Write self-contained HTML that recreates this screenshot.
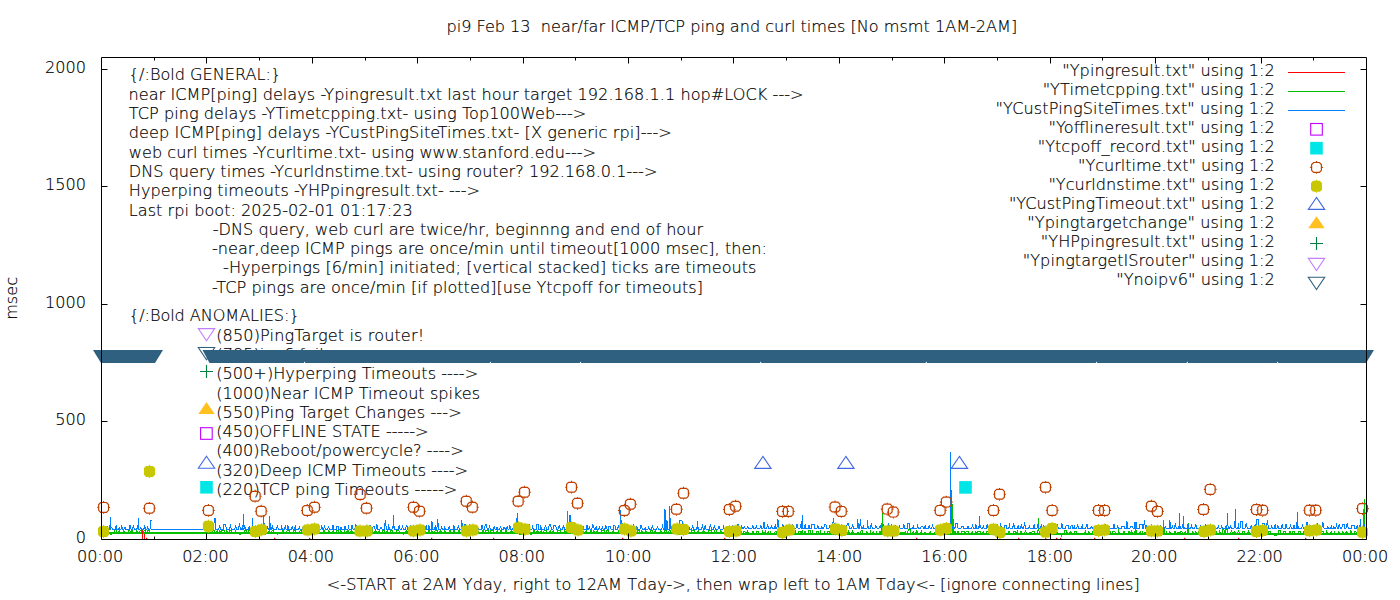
<!DOCTYPE html>
<html><head><meta charset="utf-8"><title>pi9 ping chart</title>
<style>html,body{margin:0;padding:0;background:#fff;overflow:hidden}svg{display:block}text{fill:#000;white-space:pre} .el text{font-weight:200;stroke:#000;stroke-width:0.18px}</style>
</head><body>
<svg class="el" width="1400" height="600" viewBox="0 0 1400 600" font-family="'DejaVu Sans', 'Liberation Sans', sans-serif" font-size="16.1">
<rect width="1400" height="600" fill="#fff"/>
<text x="446.43" y="32" textLength="570.85" lengthAdjust="spacing">pi9 Feb 13  near/far ICMP/TCP ping and curl times [No msmt 1AM-2AM]</text>
<text x="128.80" y="80" textLength="152.30" lengthAdjust="spacing">{/:Bold GENERAL:}</text>
<text x="128.50" y="100.1" textLength="675.07" lengthAdjust="spacing">near ICMP[ping] delays -Ypingresult.txt last hour target 192.168.1.1 hop#LOCK ---&gt;</text>
<text x="128.80" y="118.6" textLength="457.50" lengthAdjust="spacing">TCP ping delays -YTimetcpping.txt- using Top100Web---&gt;</text>
<text x="128.80" y="137.9" textLength="543.03" lengthAdjust="spacing">deep ICMP[ping] delays -YCustPingSiteTimes.txt- [X generic rpi]---&gt;</text>
<text x="128.80" y="157.7" textLength="467.23" lengthAdjust="spacing">web curl times -Ycurltime.txt- using www.stanford.edu---&gt;</text>
<text x="128.80" y="177.0" textLength="528.61" lengthAdjust="spacing">DNS query times -Ycurldnstime.txt- using router? 192.168.0.1---&gt;</text>
<text x="128.80" y="196.3" textLength="351.25" lengthAdjust="spacing">Hyperping timeouts -YHPpingresult.txt- ---&gt;</text>
<text x="128.80" y="215.6" textLength="283.85" lengthAdjust="spacing">Last rpi boot: 2025-02-01 01:17:23</text>
<text x="212.80" y="235.0" textLength="490.24" lengthAdjust="spacing">-DNS query, web curl are twice/hr, beginnng and end of hour</text>
<text x="212.00" y="254.2" textLength="555.01" lengthAdjust="spacing">-near,deep ICMP pings are once/min until timeout[1000 msec], then:</text>
<text x="223.10" y="273.4" textLength="533.31" lengthAdjust="spacing">-Hyperpings [6/min] initiated; [vertical stacked] ticks are timeouts</text>
<text x="212.00" y="292.6" textLength="491.00" lengthAdjust="spacing">-TCP pings are once/min [if plotted][use Ytcpoff for timeouts]</text>
<text x="129.00" y="320.7" textLength="170.54" lengthAdjust="spacing">{/:Bold ANOMALIES:}</text>
<text x="216.20" y="341.2" textLength="207.88" lengthAdjust="spacing">(850)PingTarget is router!</text>
<text id="a1" x="216.5" y="360.3" text-anchor="start">(785)ipv6 fail -----&gt;</text>
<text x="216.20" y="379.4" textLength="261.95" lengthAdjust="spacing">(500+)Hyperping Timeouts ----&gt;</text>
<text x="216.20" y="398.5" textLength="264.00" lengthAdjust="spacing">(1000)Near ICMP Timeout spikes</text>
<text x="216.20" y="417.7" textLength="245.49" lengthAdjust="spacing">(550)Ping Target Changes ---&gt;</text>
<text x="216.20" y="436.9" textLength="212.39" lengthAdjust="spacing">(450)OFFLINE STATE -----&gt;</text>
<text x="216.20" y="456.1" textLength="247.44" lengthAdjust="spacing">(400)Reboot/powercycle? ----&gt;</text>
<text x="216.20" y="475.6" textLength="251.85" lengthAdjust="spacing">(320)Deep ICMP Timeouts ----&gt;</text>
<text x="216.20" y="494.9" textLength="241.16" lengthAdjust="spacing">(220)TCP ping Timeouts -----&gt;</text>
<text x="1062.27" y="76" textLength="212.53" lengthAdjust="spacing">"Ypingresult.txt" using 1:2</text>
<text x="1042.65" y="95" textLength="232.15" lengthAdjust="spacing">"YTimetcpping.txt" using 1:2</text>
<text x="995.59" y="114" textLength="279.21" lengthAdjust="spacing">"YCustPingSiteTimes.txt" using 1:2</text>
<text x="1048.57" y="133" textLength="226.23" lengthAdjust="spacing">"Yofflineresult.txt" using 1:2</text>
<text x="1037.78" y="152" textLength="237.02" lengthAdjust="spacing">"Ytcpoff_record.txt" using 1:2</text>
<text x="1078.05" y="171" textLength="196.75" lengthAdjust="spacing">"Ycurltime.txt" using 1:2</text>
<text x="1048.45" y="190" textLength="226.35" lengthAdjust="spacing">"Ycurldnstime.txt" using 1:2</text>
<text x="1008.88" y="209" textLength="265.92" lengthAdjust="spacing">"YCustPingTimeout.txt" using 1:2</text>
<text x="1027.32" y="228" textLength="247.48" lengthAdjust="spacing">"Ypingtargetchange" using 1:2</text>
<text x="1040.87" y="247" textLength="233.93" lengthAdjust="spacing">"YHPpingresult.txt" using 1:2</text>
<text x="1022.80" y="266" textLength="252.00" lengthAdjust="spacing">"YpingtargetISrouter" using 1:2</text>
<text x="1116.21" y="285" textLength="158.59" lengthAdjust="spacing">"Ynoipv6" using 1:2</text>
<text id="y0" x="86" y="542.8" text-anchor="end">0</text>
<text id="y500" x="86" y="424.8" text-anchor="end">500</text>
<text id="y1000" x="86" y="307.8" text-anchor="end">1000</text>
<text id="y1500" x="86" y="189.8" text-anchor="end">1500</text>
<text id="y2000" x="86" y="72.8" text-anchor="end">2000</text>
<text id="x0" x="100.1" y="562" text-anchor="middle">00:00</text>
<text id="x2" x="205.52" y="562" text-anchor="middle">02:00</text>
<text id="x4" x="310.93" y="562" text-anchor="middle">04:00</text>
<text id="x6" x="416.35" y="562" text-anchor="middle">06:00</text>
<text id="x8" x="521.76" y="562" text-anchor="middle">08:00</text>
<text id="x10" x="628.28" y="562" text-anchor="middle">10:00</text>
<text id="x12" x="733.7" y="562" text-anchor="middle">12:00</text>
<text id="x14" x="839.11" y="562" text-anchor="middle">14:00</text>
<text id="x16" x="944.53" y="562" text-anchor="middle">16:00</text>
<text id="x18" x="1049.94" y="562" text-anchor="middle">18:00</text>
<text id="x20" x="1154.26" y="562" text-anchor="middle">20:00</text>
<text id="x22" x="1259.68" y="562" text-anchor="middle">22:00</text>
<text id="x24" x="1365.09" y="562" text-anchor="middle">00:00</text>
<text x="326.82" y="590" textLength="812.96" lengthAdjust="spacing">&lt;-START at 2AM Yday, right to 12AM Tday-&gt;, then wrap left to 1AM Tday&lt;- [ignore connecting lines]</text>
<text transform="translate(17,298.4) rotate(-90)" text-anchor="middle">msec</text>
<path d="M198.3,328.6 L214.7,328.6 L206.5,340.8 Z" fill="none" stroke="#c080ff" stroke-width="1.1"/>
<path d="M198.3,347.5 L214.7,347.5 L206.5,359.7 Z" fill="none" stroke="#306080" stroke-width="1.1"/>
<path d="M200.0,371.5H213.0M206.5,365.0V378.0" stroke="#008040" stroke-width="1.1"/>
<path d="M206.5,402.0 L214.7,414.0 L198.3,414.0 Z" fill="#ffc020"/>
<rect x="200.6" y="427.7" width="11.6" height="11.6" fill="none" stroke="#c000ff" stroke-width="1.1"/>
<path d="M206.5,456.2 L214.7,468.2 L198.3,468.2 Z" fill="none" stroke="#4169e1" stroke-width="1.1"/>
<rect x="200.2" y="481.0" width="12.6" height="12.6" fill="#00e6e6"/>
<path d="M101.5,533 H734.0 M734.0,534 H1366.5" stroke="#00c000" stroke-width="2" shape-rendering="crispEdges"/>
<path d="M101.5,532.5 L103.5,532.5 L104.4,530.6 L105.3,532.5 L106.6,532.5 L107.1,530.6 L108.2,530.6 L108.7,532.5 L109.8,532.5 L111.0,534.7 L112.2,532.5 L114.7,532.5 L115.2,527.9 L116.3,527.9 L116.8,532.5 L118.2,532.5 L119.4,530.9 L120.5,532.5 L123.0,532.5 L123.7,530.6 L124.4,532.5 L127.9,532.5 L128.4,530.4 L129.8,530.4 L130.3,532.5 L131.3,532.5 L132.0,530.4 L132.8,532.5 L135.9,532.5 L136.8,530.9 L137.6,532.5 L139.5,532.5 L140.0,530.9 L141.4,530.9 L141.9,532.5 L143.6,532.5 L144.1,530.3 L145.5,530.3 L146.0,532.5 L146.9,532.5 L147.4,530.4 L149.1,530.4 L149.6,532.5 L150.5,532.5 M210.6,532.5 L212.7,532.5 L213.2,530.5 L214.2,530.5 L214.7,532.5 L216.2,532.5 L217.2,530.4 L218.1,532.5 L219.3,532.5 L219.8,530.6 L220.4,532.5 L221.4,532.5 L221.9,530.5 L224.1,530.5 L224.6,532.5 L225.6,532.5 L226.8,530.4 L228.1,532.5 L229.2,532.5 L229.7,530.6 L231.6,530.6 L232.1,532.5 L234.8,532.5 L235.6,530.9 L236.4,532.5 L238.8,532.5 L240.0,534.5 L241.2,532.5 L243.8,532.5 L244.3,530.7 L246.4,530.7 L246.9,532.5 L248.3,532.5 L248.8,530.7 L250.5,530.7 L251.0,532.5 L254.1,532.5 L254.6,530.6 L256.2,530.6 L256.7,532.5 L259.6,532.5 L260.1,530.8 L262.1,530.8 L262.6,532.5 L264.2,532.5 L264.7,534.3 L266.0,534.3 L266.5,532.5 L268.6,532.5 L269.2,530.3 L269.8,532.5 L271.6,532.5 L272.1,530.8 L273.1,530.8 L273.6,532.5 L276.5,532.5 L277.5,534.0 L278.4,532.5 L281.9,532.5 L283.0,530.6 L284.1,532.5 L286.6,532.5 L287.1,530.8 L289.1,530.8 L289.6,532.5 L292.9,532.5 L293.4,530.4 L295.7,530.4 L296.2,532.5 L299.6,532.5 L300.1,530.6 L301.4,530.6 L301.9,532.5 L303.4,532.5 L304.6,530.5 L305.7,532.5 L307.2,532.5 L308.1,530.6 L309.1,532.5 L312.5,532.5 L313.7,530.4 L314.9,532.5 L317.2,532.5 L317.7,530.7 L319.6,530.7 L320.1,532.5 L322.8,532.5 L324.0,530.4 L325.2,532.5 L328.1,532.5 L328.8,530.7 L329.6,532.5 L332.2,532.5 L333.1,530.6 L334.0,532.5 L335.9,532.5 L336.4,530.8 L338.4,530.8 L338.9,532.5 L340.0,532.5 L340.9,530.7 L341.9,532.5 L343.7,532.5 L344.4,530.9 L345.0,532.5 L346.7,532.5 L347.2,530.8 L348.2,530.8 L348.7,532.5 L350.3,532.5 L351.5,530.8 L352.7,532.5 L355.3,532.5 L355.8,530.8 L358.1,530.8 L358.6,532.5 L360.7,532.5 L361.6,530.4 L362.5,532.5 L364.3,532.5 L365.2,530.5 L366.2,532.5 L367.9,532.5 L368.4,530.5 L369.9,530.5 L370.4,532.5 L371.6,532.5 L372.1,530.8 L372.7,532.5 L374.3,532.5 L375.4,530.3 L376.6,532.5 L378.2,532.5 L379.2,530.8 L380.1,532.5 L382.1,532.5 L382.6,530.5 L384.1,530.5 L384.6,532.5 L386.5,532.5 L387.2,530.4 L387.9,532.5 L390.1,532.5 L390.6,530.9 L392.8,530.9 L393.3,532.5 L396.1,532.5 L396.6,530.7 L398.9,530.7 L399.4,532.5 L402.5,532.5 L403.2,534.1 L403.8,532.5 L405.4,532.5 L406.5,530.8 L407.7,532.5 L408.8,532.5 L409.6,530.5 L410.5,532.5 L413.5,532.5 L414.0,530.6 L416.0,530.6 L416.5,532.5 L418.4,532.5 L419.6,530.6 L420.8,532.5 L423.9,532.5 L424.7,530.5 L425.5,532.5 L428.0,532.5 L428.5,530.4 L429.5,530.4 L430.0,532.5 L431.1,532.5 L431.7,528.8 L432.2,532.5 L434.7,532.5 L435.2,530.3 L437.6,530.3 L438.1,532.5 L439.5,532.5 L440.6,530.3 L441.7,532.5 L444.0,532.5 L444.9,530.7 L445.9,532.5 L449.3,532.5 L450.0,530.4 L450.8,532.5 L453.2,532.5 L454.1,528.8 L454.9,532.5 L457.9,532.5 L459.1,530.4 L460.2,532.5 L462.3,532.5 L462.8,530.8 L464.4,530.8 L464.9,532.5 L466.7,532.5 L467.9,530.5 L469.2,532.5 L470.6,532.5 L471.1,530.6 L473.1,530.6 L473.6,532.5 L475.9,532.5 L476.4,530.5 L477.8,530.5 L478.3,532.5 L481.8,532.5 L482.3,530.7 L483.6,530.7 L484.1,532.5 L485.4,532.5 L485.9,530.7 L488.3,530.7 L488.8,532.5 L490.5,532.5 L491.0,530.5 L493.0,530.5 L493.5,532.5 L496.1,532.5 L497.4,530.8 L498.6,532.5 L499.9,532.5 L500.4,530.6 L501.7,530.6 L502.2,532.5 L504.7,532.5 L506.0,530.5 L507.2,532.5 L510.5,532.5 L511.6,530.7 L512.6,532.5 L514.0,532.5 L515.0,530.6 L516.0,532.5 L518.8,532.5 L519.3,534.6 L521.4,534.6 L521.9,532.5 L525.4,532.5 L525.9,530.4 L527.5,530.4 L528.0,532.5 L529.5,532.5 L530.0,534.1 L531.4,534.1 L531.9,532.5 L533.1,532.5 L534.0,530.4 L535.0,532.5 L536.2,532.5 L537.4,530.8 L538.6,532.5 L540.4,532.5 L541.3,530.8 L542.2,532.5 L543.7,532.5 L544.2,530.6 L546.1,530.6 L546.6,532.5 L549.7,532.5 L550.2,530.4 L550.7,532.5 L552.5,532.5 L553.4,530.7 L554.3,532.5 L557.3,532.5 L557.8,530.4 L560.1,530.4 L560.6,532.5 L563.8,532.5 L564.8,530.9 L565.8,532.5 L567.2,532.5 L568.1,530.7 L569.0,532.5 L571.6,532.5 L572.1,530.4 L573.5,530.4 L574.0,532.5 L575.1,532.5 L575.6,530.9 L577.6,530.9 L578.1,532.5 L581.5,532.5 L582.6,530.6 L583.7,532.5 L585.2,532.5 L586.1,530.7 L587.0,532.5 L589.8,532.5 L590.9,530.4 L592.0,532.5 L593.2,532.5 L593.8,530.9 L594.4,532.5 L596.3,532.5 L597.2,530.7 L598.1,532.5 L601.3,532.5 L601.8,530.7 L604.2,530.7 L604.7,532.5 L606.4,532.5 L606.9,530.3 L608.2,530.3 L608.7,532.5 L612.1,532.5 L613.2,530.9 L614.3,532.5 L617.8,532.5 L618.3,530.4 L619.8,530.4 L620.3,532.5 L623.7,532.5 L624.2,530.4 L625.5,530.4 L626.0,532.5 L627.0,532.5 L628.2,530.8 L629.4,532.5 L632.0,532.5 L633.2,530.6 L634.5,532.5 L637.1,532.5 L637.6,530.5 L639.3,530.5 L639.8,532.5 L641.1,532.5 L641.9,530.7 L642.6,532.5 L645.2,532.5 L645.9,530.6 L646.5,532.5 L649.8,532.5 L650.3,530.5 L652.1,530.5 L652.6,532.5 L654.3,532.5 L655.3,530.5 L656.4,532.5 L659.6,532.5 L660.6,530.8 L661.5,532.5 L663.8,532.5 L664.3,530.8 L666.7,530.8 L667.2,532.5 L668.7,532.5 L669.2,530.6 L670.6,530.6 L671.1,532.5 L672.4,532.5 L673.4,530.7 L674.4,532.5 L675.3,532.5 L676.1,530.4 L676.9,532.5 L678.2,532.5 L678.7,534.5 L679.9,534.5 L680.4,532.5 L681.8,532.5 L682.3,530.6 L684.1,530.6 L684.6,532.5 L685.9,532.5 L686.4,530.7 L687.4,530.7 L687.9,532.5 L691.3,532.5 L691.8,530.8 L694.1,530.8 L694.6,532.5 L697.4,532.5 L698.3,530.8 L699.3,532.5 L702.4,532.5 L703.7,530.6 L704.9,532.5 L708.4,532.5 L708.9,530.8 L711.2,530.8 L711.7,532.5 L714.6,532.5 L715.1,529.2 L716.1,529.2 L716.6,532.5 L719.9,532.5 L720.7,530.5 L721.5,532.5 L724.0,532.5 L724.7,530.5 L725.3,532.5 L727.9,532.5 L728.7,530.5 L729.4,532.5 L730.3,532.5 L731.0,530.4 L731.8,532.5 L733.1,532.5 L734.0,530.8 L734.0,532.5 L734.0,532.5 M734.0,533.5 L735.5,533.5 L736.0,531.2 L737.3,531.2 L737.8,533.5 L739.0,533.5 L739.5,531.7 L741.3,531.7 L741.8,533.5 L743.4,533.5 L743.9,531.5 L744.9,531.5 L745.4,533.5 L746.6,533.5 L747.7,531.0 L748.8,533.5 L752.2,533.5 L753.0,531.0 L753.9,533.5 L756.2,533.5 L756.7,531.5 L758.2,531.5 L758.7,533.5 L761.7,533.5 L762.6,531.0 L763.6,533.5 L764.7,533.5 L765.4,531.2 L766.0,533.5 L767.5,533.5 L768.1,531.4 L768.7,533.5 L770.1,533.5 L770.7,531.7 L771.2,533.5 L774.6,533.5 L775.1,531.5 L776.2,531.5 L776.7,533.5 L779.7,533.5 L780.5,531.0 L781.3,533.5 L784.5,533.5 L785.3,531.0 L786.0,533.5 L787.2,533.5 L787.9,530.8 L788.5,533.5 L790.9,533.5 L791.4,531.3 L792.9,531.3 L793.4,533.5 L794.6,533.5 L795.2,531.2 L795.8,533.5 L798.1,533.5 L798.6,531.3 L800.1,531.3 L800.6,533.5 L801.4,533.5 L802.1,530.8 L802.8,533.5 L803.8,533.5 L804.3,531.4 L805.3,531.4 L805.8,533.5 L807.9,533.5 L808.4,530.8 L810.4,530.8 L810.9,533.5 L811.8,533.5 L812.5,531.4 L813.2,533.5 L816.3,533.5 L816.8,531.7 L818.2,531.7 L818.7,533.5 L820.0,533.5 L820.6,531.6 L821.2,533.5 L823.6,533.5 L824.4,532.0 L825.3,533.5 L827.0,533.5 L827.5,531.7 L829.8,531.7 L830.3,533.5 L833.3,533.5 L833.8,531.7 L834.9,531.7 L835.4,533.5 L837.1,533.5 L837.7,531.5 L838.2,533.5 L839.4,533.5 L839.9,531.0 L841.7,531.0 L842.2,533.5 L843.0,533.5 L843.5,531.7 L845.2,531.7 L845.7,533.5 L847.4,533.5 L848.4,531.0 L849.4,533.5 L851.6,533.5 L852.6,530.9 L853.6,533.5 L856.8,533.5 L857.9,531.9 L859.0,533.5 L860.6,533.5 L861.1,530.8 L862.2,530.8 L862.7,533.5 L865.5,533.5 L866.7,531.9 L868.0,533.5 L869.9,533.5 L870.6,531.3 L871.3,533.5 L872.4,533.5 L873.1,531.6 L873.8,533.5 L875.9,533.5 L876.6,532.0 L877.4,533.5 L878.8,533.5 L880.1,531.0 L881.3,533.5 L883.4,533.5 L883.9,531.7 L885.7,531.7 L886.2,533.5 L888.0,533.5 L888.6,531.4 L889.1,533.5 L890.4,533.5 L891.5,531.9 L892.7,533.5 L894.9,533.5 L895.9,531.0 L896.9,533.5 L900.3,533.5 L900.8,532.0 L903.0,532.0 L903.5,533.5 L904.5,533.5 L905.3,531.4 L906.2,533.5 L907.7,533.5 L908.2,529.2 L910.3,529.2 L910.8,533.5 L912.2,533.5 L913.4,531.9 L914.6,533.5 L915.6,533.5 L916.8,530.9 L917.9,533.5 L920.6,533.5 L921.2,531.2 L921.8,533.5 L924.2,533.5 L925.1,531.9 L926.0,533.5 L929.2,533.5 L930.1,531.5 L931.0,533.5 L934.4,533.5 L935.4,531.5 L936.4,533.5 L939.0,533.5 L939.8,531.5 L940.6,533.5 L943.5,533.5 L944.5,530.8 L945.4,533.5 L946.4,533.5 L947.1,531.7 L947.9,533.5 L949.2,533.5 L949.7,530.9 L952.2,530.9 L952.7,533.5 L953.8,533.5 L954.3,531.8 L955.6,531.8 L956.1,533.5 L956.9,533.5 L957.9,531.2 L958.8,533.5 L961.4,533.5 L961.9,531.1 L964.2,531.1 L964.7,533.5 L965.6,533.5 L966.1,531.3 L968.3,531.3 L968.8,533.5 L971.5,533.5 L972.2,531.5 L972.9,533.5 L975.2,533.5 L975.8,530.9 L976.3,533.5 L977.6,533.5 L978.1,531.0 L980.3,531.0 L980.8,533.5 L982.4,533.5 L983.4,531.9 L984.5,533.5 L986.4,533.5 L986.9,531.1 L988.5,531.1 L989.0,533.5 L992.1,533.5 L993.3,531.9 L994.4,533.5 L996.3,533.5 L996.8,528.9 L998.2,528.9 L998.7,533.5 L1001.9,533.5 L1002.4,532.0 L1004.5,532.0 L1005.0,533.5 L1007.8,533.5 L1008.9,531.3 L1010.0,533.5 L1012.9,533.5 L1013.4,531.4 L1015.4,531.4 L1015.9,533.5 L1016.7,533.5 L1017.4,531.1 L1018.1,533.5 L1020.0,533.5 L1021.1,531.0 L1022.2,533.5 L1024.4,533.5 L1025.6,531.1 L1026.8,533.5 L1029.1,533.5 L1030.0,531.8 L1030.8,533.5 L1031.7,533.5 L1032.2,531.6 L1034.5,531.6 L1035.0,533.5 L1037.9,533.5 L1039.0,535.3 L1040.1,533.5 L1042.4,533.5 L1043.3,531.5 L1044.1,533.5 L1046.5,533.5 L1047.0,531.5 L1049.5,531.5 L1050.0,533.5 L1053.4,533.5 L1054.3,531.3 L1055.2,533.5 L1056.1,533.5 L1056.7,531.0 L1057.3,533.5 L1060.6,533.5 L1061.3,535.6 L1061.9,533.5 L1064.1,533.5 L1064.6,530.8 L1066.7,530.8 L1067.2,533.5 L1069.5,533.5 L1070.5,531.6 L1071.5,533.5 L1073.9,533.5 L1074.4,531.7 L1076.5,531.7 L1077.0,533.5 L1079.2,533.5 L1080.2,535.0 L1081.2,533.5 L1084.4,533.5 L1085.3,531.2 L1086.3,533.5 L1087.6,533.5 L1088.7,531.8 L1089.8,533.5 L1092.1,533.5 L1092.7,531.9 L1093.3,533.5 L1094.8,533.5 L1095.4,531.6 L1096.0,533.5 L1097.4,533.5 L1098.4,531.2 L1099.5,533.5 L1100.9,533.5 L1101.4,531.7 L1103.3,531.7 L1103.8,533.5 L1106.7,533.5 L1107.5,531.3 L1108.3,533.5 L1109.9,533.5 L1110.4,531.8 L1111.0,533.5 L1112.1,533.5 L1112.6,531.6 L1114.9,531.6 L1115.4,533.5 L1117.8,533.5 L1118.6,530.9 L1119.5,533.5 L1122.9,533.5 L1124.0,531.6 L1125.2,533.5 L1128.3,533.5 L1128.9,531.0 L1129.5,533.5 L1130.5,533.5 L1131.6,531.3 L1132.8,533.5 L1134.1,533.5 L1134.6,531.8 L1135.7,531.8 L1136.2,533.5 L1139.6,533.5 L1140.1,531.4 L1140.7,533.5 L1142.1,533.5 L1142.6,531.9 L1143.1,533.5 L1143.9,533.5 L1145.0,531.8 L1146.0,533.5 L1148.0,533.5 L1148.5,530.9 L1149.6,530.9 L1150.1,533.5 L1152.9,533.5 L1154.1,531.1 L1155.2,533.5 L1156.6,533.5 L1157.3,535.2 L1158.1,533.5 L1161.1,533.5 L1161.8,535.5 L1162.4,533.5 L1165.9,533.5 L1166.4,531.9 L1167.0,533.5 L1169.0,533.5 L1169.8,531.6 L1170.6,533.5 L1173.8,533.5 L1174.3,531.9 L1175.6,531.9 L1176.1,533.5 L1177.3,533.5 L1178.0,531.9 L1178.6,533.5 L1179.8,533.5 L1180.3,531.2 L1181.9,531.2 L1182.4,533.5 L1184.2,533.5 L1185.2,531.5 L1186.2,533.5 L1187.2,533.5 L1188.3,531.8 L1189.4,533.5 L1191.9,533.5 L1192.8,531.6 L1193.7,533.5 L1194.8,533.5 L1195.9,531.7 L1197.0,533.5 L1198.1,533.5 L1198.9,531.1 L1199.7,533.5 L1201.9,533.5 L1202.7,531.8 L1203.6,533.5 L1205.4,533.5 L1205.9,531.8 L1208.3,531.8 L1208.8,533.5 L1210.4,533.5 L1210.9,531.6 L1212.2,531.6 L1212.7,533.5 L1213.7,533.5 L1214.2,531.8 L1216.6,531.8 L1217.1,533.5 L1218.7,533.5 L1219.6,531.3 L1220.5,533.5 L1222.3,533.5 L1222.8,529.7 L1224.0,529.7 L1224.5,533.5 L1225.5,533.5 L1226.0,529.3 L1227.3,529.3 L1227.8,533.5 L1230.6,533.5 L1231.6,530.8 L1232.5,533.5 L1233.5,533.5 L1234.6,531.5 L1235.7,533.5 L1237.2,533.5 L1238.4,530.9 L1239.6,533.5 L1242.0,533.5 L1242.5,531.4 L1244.2,531.4 L1244.7,533.5 L1247.6,533.5 L1248.5,531.0 L1249.4,533.5 L1251.0,533.5 L1251.5,531.7 L1253.4,531.7 L1253.9,533.5 L1255.2,533.5 L1255.7,531.5 L1257.9,531.5 L1258.4,533.5 L1260.3,533.5 L1260.8,530.9 L1261.4,533.5 L1263.6,533.5 L1264.3,530.9 L1265.1,533.5 L1268.3,533.5 L1268.8,531.9 L1270.3,531.9 L1270.8,533.5 L1273.7,533.5 L1274.2,535.3 L1276.6,535.3 L1277.1,533.5 L1278.2,533.5 L1278.7,530.9 L1280.2,530.9 L1280.7,533.5 L1283.5,533.5 L1284.0,531.3 L1285.1,531.3 L1285.6,533.5 L1288.8,533.5 L1289.9,530.9 L1291.1,533.5 L1292.3,533.5 L1292.8,531.9 L1294.6,531.9 L1295.1,533.5 L1298.4,533.5 L1298.9,531.7 L1300.5,531.7 L1301.0,533.5 L1303.3,533.5 L1303.8,531.6 L1304.4,533.5 L1305.7,533.5 L1306.2,530.9 L1307.9,530.9 L1308.4,533.5 L1309.4,533.5 L1309.9,531.3 L1312.3,531.3 L1312.8,533.5 L1315.3,533.5 L1315.8,531.2 L1318.2,531.2 L1318.7,533.5 L1321.1,533.5 L1321.6,531.6 L1323.2,531.6 L1323.7,533.5 L1325.8,533.5 L1326.6,531.5 L1327.5,533.5 L1330.5,533.5 L1331.3,531.8 L1332.0,533.5 L1333.7,533.5 L1334.6,531.9 L1335.5,533.5 L1337.7,533.5 L1338.8,531.6 L1339.8,533.5 L1341.7,533.5 L1342.6,531.7 L1343.5,533.5 L1345.2,533.5 L1346.4,531.8 L1347.6,533.5 L1350.2,533.5 L1350.9,531.0 L1351.6,533.5 L1354.3,533.5 L1354.8,531.4 L1355.8,531.4 L1356.3,533.5 L1358.4,533.5 L1358.9,531.1 L1360.9,531.1 L1361.4,533.5 L1364.0,533.5 L1365.2,531.9 L1366.3,533.5 L1366.5,533.5 M566.8,532.5 L567.4,511.0 L568.0,532.5 M881.7,533.5 L882.3,512.6 L882.9,533.5 M952.1,533.5 L952.7,504.0 L953.3,533.5 M1037.9,533.5 L1038.5,518.0 L1039.1,533.5 M1363.6,533.5 L1364.2,499.0 L1364.8,533.5 M1135.0,533.5 L1135.6,522.3 L1136.2,533.5 M1163.0,533.5 L1163.6,519.6 L1164.2,533.5 M1187.7,533.5 L1188.3,523.0 L1188.9,533.5 " fill="none" stroke="#00c000" stroke-width="1" stroke-linejoin="miter" shape-rendering="crispEdges"/>
<path d="M101.5,529.5 L102.7,529.5 L103.4,525.4 L104.0,529.5 L106.8,529.5 L107.3,526.0 L107.8,529.5 L110.0,529.5 L110.5,527.3 L111.9,527.3 L112.4,529.5 L115.6,529.5 L116.1,525.3 L116.6,529.5 L118.6,529.5 L119.2,527.2 L119.9,529.5 L121.0,529.5 L121.7,524.7 L122.5,529.5 L123.8,529.5 L124.9,527.4 L126.0,529.5 L129.1,529.5 L130.1,524.8 L131.1,529.5 L132.1,529.5 L133.4,526.1 L134.6,529.5 L136.4,529.5 L137.7,526.4 L139.0,529.5 L139.9,529.5 L140.8,527.2 L141.7,529.5 L143.8,529.5 L144.7,525.3 L145.7,529.5 L146.9,529.5 L147.7,527.0 L148.5,529.5 L150.0,529.5 L151.1,519.6 L150.5,529.5 L150.5,529.5 M210.6,529.5 L213.7,529.5 L214.2,518.5 L215.5,518.5 L216.0,529.5 L218.4,529.5 L219.6,526.5 L220.9,529.5 L223.1,529.5 L223.6,524.7 L225.8,524.7 L226.3,529.5 L229.2,529.5 L230.4,525.7 L231.5,529.5 L234.6,529.5 L235.7,525.2 L236.7,529.5 L238.1,529.5 L239.4,524.6 L240.7,529.5 L241.8,529.5 L242.3,525.0 L242.9,529.5 L243.8,529.5 L244.6,524.7 L245.4,529.5 L248.4,529.5 L249.2,526.6 L249.9,529.5 L252.0,529.5 L252.6,526.2 L253.1,529.5 L254.8,529.5 L256.1,526.2 L257.3,529.5 L259.1,529.5 L260.0,527.2 L261.0,529.5 L262.5,529.5 L263.5,526.4 L264.4,529.5 L266.7,529.5 L267.6,526.9 L268.4,529.5 L271.4,529.5 L272.3,526.1 L273.3,529.5 L276.4,529.5 L277.4,525.3 L278.5,529.5 L281.1,529.5 L281.7,525.0 L282.2,529.5 L284.5,529.5 L285.3,526.5 L286.2,529.5 L287.1,529.5 L287.8,524.6 L288.4,529.5 L291.3,529.5 L292.2,527.0 L293.1,529.5 L294.7,529.5 L295.2,525.3 L295.8,529.5 L298.6,529.5 L299.4,527.4 L300.2,529.5 L302.7,529.5 L303.2,526.1 L304.7,526.1 L305.2,529.5 L307.6,529.5 L308.1,527.0 L308.6,529.5 L310.9,529.5 L311.4,527.4 L313.6,527.4 L314.1,529.5 L316.4,529.5 L316.9,524.5 L318.8,524.5 L319.3,529.5 L320.9,529.5 L321.7,524.9 L322.5,529.5 L323.7,529.5 L324.5,525.1 L325.3,529.5 L327.4,529.5 L328.5,526.9 L329.7,529.5 L332.2,529.5 L333.0,525.0 L333.8,529.5 L336.4,529.5 L336.9,526.3 L338.2,526.3 L338.7,529.5 L340.4,529.5 L341.0,526.8 L341.7,529.5 L344.5,529.5 L345.1,525.7 L345.6,529.5 L348.0,529.5 L348.6,525.1 L349.1,529.5 L351.1,529.5 L352.1,524.7 L353.1,529.5 L354.7,529.5 L355.9,524.6 L357.2,529.5 L359.5,529.5 L360.1,526.5 L360.6,529.5 L362.1,529.5 L363.0,527.4 L363.9,529.5 L365.1,529.5 L366.2,526.1 L367.4,529.5 L369.5,529.5 L370.0,524.9 L370.5,529.5 L372.6,529.5 L373.1,526.8 L374.6,526.8 L375.1,529.5 L376.0,529.5 L376.9,524.5 L377.8,529.5 L379.8,529.5 L381.0,527.3 L382.2,529.5 L384.1,529.5 L385.3,520.4 L386.4,529.5 L388.1,529.5 L388.7,524.0 L389.3,529.5 L392.0,529.5 L392.5,526.8 L394.5,526.8 L395.0,529.5 L398.0,529.5 L399.1,525.7 L400.1,529.5 L401.7,529.5 L402.6,526.3 L403.4,529.5 L405.5,529.5 L406.6,525.0 L407.8,529.5 L409.8,529.5 L410.5,525.5 L411.2,529.5 L412.9,529.5 L413.8,525.1 L414.8,529.5 L416.6,529.5 L417.6,527.1 L418.6,529.5 L421.2,529.5 L421.7,527.1 L423.1,527.1 L423.6,529.5 L425.3,529.5 L426.2,525.6 L427.0,529.5 L428.2,529.5 L428.8,524.7 L429.4,529.5 L431.3,529.5 L432.0,521.5 L432.7,529.5 L434.6,529.5 L435.2,525.4 L435.9,529.5 L436.8,529.5 L437.7,519.5 L438.7,529.5 L441.0,529.5 L441.6,526.5 L442.3,529.5 L444.1,529.5 L444.7,527.4 L445.3,529.5 L448.4,529.5 L449.3,526.0 L450.2,529.5 L453.3,529.5 L453.9,524.7 L454.4,529.5 L457.3,529.5 L458.4,526.3 L459.6,529.5 L461.0,529.5 L461.8,519.6 L462.5,529.5 L464.4,529.5 L465.1,523.8 L465.8,529.5 L468.5,529.5 L469.6,525.6 L470.7,529.5 L471.7,529.5 L472.2,526.1 L473.8,526.1 L474.3,529.5 L477.3,529.5 L477.8,526.7 L478.3,529.5 L481.1,529.5 L481.6,525.9 L482.6,525.9 L483.1,529.5 L484.6,529.5 L485.1,524.9 L486.7,524.9 L487.2,529.5 L488.6,529.5 L489.6,526.4 L490.6,529.5 L493.5,529.5 L494.3,526.1 L495.1,529.5 L496.2,529.5 L497.0,526.6 L497.8,529.5 L499.2,529.5 L500.4,527.3 L501.7,529.5 L503.0,529.5 L504.2,527.0 L505.5,529.5 L506.4,529.5 L507.2,526.0 L508.1,529.5 L508.9,529.5 L509.8,525.3 L510.6,529.5 L512.7,529.5 L513.2,527.1 L514.7,527.1 L515.2,529.5 L516.4,529.5 L517.3,527.3 L518.3,529.5 L519.6,529.5 L520.7,527.1 L521.7,529.5 L523.9,529.5 L524.4,527.4 L526.0,527.4 L526.5,529.5 L528.3,529.5 L529.2,523.8 L530.1,529.5 L531.9,529.5 L532.6,526.8 L533.3,529.5 L536.2,529.5 L536.7,524.9 L538.3,524.9 L538.8,529.5 L540.2,529.5 L540.8,525.2 L541.3,529.5 L544.5,529.5 L545.6,525.1 L546.7,529.5 L548.7,529.5 L549.2,524.5 L550.8,524.5 L551.3,529.5 L553.0,529.5 L553.5,525.0 L555.8,525.0 L556.3,529.5 L557.9,529.5 L559.2,526.0 L560.4,529.5 L562.5,529.5 L563.5,525.4 L564.5,529.5 L566.2,529.5 L567.5,526.2 L568.7,529.5 L571.8,529.5 L572.3,525.4 L572.8,529.5 L575.4,529.5 L576.5,525.3 L577.5,529.5 L579.2,529.5 L579.8,524.9 L580.3,529.5 L581.6,529.5 L582.1,526.9 L583.3,526.9 L583.8,529.5 L586.3,529.5 L586.9,524.6 L587.5,529.5 L588.7,529.5 L589.4,527.3 L590.2,529.5 L591.7,529.5 L593.0,524.6 L594.3,529.5 L595.6,529.5 L596.3,526.0 L597.0,529.5 L598.4,529.5 L599.4,526.9 L600.3,529.5 L601.7,529.5 L602.4,526.4 L603.2,529.5 L604.7,529.5 L605.9,525.5 L607.2,529.5 L608.3,529.5 L608.8,526.3 L610.6,526.3 L611.1,529.5 L613.1,529.5 L613.6,525.5 L614.9,525.5 L615.4,529.5 L617.4,529.5 L618.4,525.3 L619.4,529.5 L620.7,529.5 L621.9,522.7 L623.2,529.5 L626.3,529.5 L627.3,525.0 L628.2,529.5 L629.8,529.5 L630.6,527.0 L631.4,529.5 L632.5,529.5 L633.5,525.8 L634.6,529.5 L636.2,529.5 L636.8,525.6 L637.5,529.5 L639.8,529.5 L641.1,525.2 L642.4,529.5 L644.3,529.5 L645.2,527.4 L646.0,529.5 L647.8,529.5 L648.7,527.0 L649.6,529.5 L651.1,529.5 L652.3,526.2 L653.4,529.5 L656.5,529.5 L657.6,527.0 L658.7,529.5 L661.5,529.5 L662.5,526.0 L663.5,529.5 L666.3,529.5 L667.0,520.4 L667.8,529.5 L669.6,529.5 L670.7,524.5 L671.9,529.5 L673.8,529.5 L675.0,526.6 L676.2,529.5 L679.2,529.5 L679.7,520.7 L682.0,520.7 L682.5,529.5 L684.2,529.5 L684.7,525.6 L685.3,529.5 L688.2,529.5 L688.9,526.5 L689.6,529.5 L691.7,529.5 L692.6,524.9 L693.5,529.5 L696.4,529.5 L697.4,525.9 L698.5,529.5 L701.6,529.5 L702.5,524.5 L703.3,529.5 L704.3,529.5 L705.2,524.8 L706.1,529.5 L709.1,529.5 L710.4,525.2 L711.7,529.5 L713.4,529.5 L714.4,526.4 L715.4,529.5 L717.9,529.5 L719.0,526.1 L720.2,529.5 L722.9,529.5 L723.5,525.2 L724.1,529.5 L727.2,529.5 L727.8,527.3 L728.3,529.5 L731.2,529.5 L732.3,525.0 L733.4,529.5 L734.0,529.5 M734.0,528.5 L737.0,528.5 L738.0,523.7 L739.0,528.5 L741.0,528.5 L741.7,526.1 L742.4,528.5 L743.2,528.5 L744.2,526.2 L745.1,528.5 L746.7,528.5 L747.8,526.3 L748.8,528.5 L751.9,528.5 L752.9,525.4 L753.8,528.5 L755.4,528.5 L756.4,526.2 L757.3,528.5 L759.7,528.5 L760.8,526.0 L762.0,528.5 L763.0,528.5 L764.0,521.8 L765.0,528.5 L766.6,528.5 L767.7,525.4 L768.8,528.5 L770.2,528.5 L771.4,526.2 L772.5,528.5 L774.7,528.5 L775.3,523.7 L775.9,528.5 L776.9,528.5 L777.9,518.6 L779.0,528.5 L781.7,528.5 L782.8,523.7 L783.9,528.5 L787.0,528.5 L787.9,525.4 L788.8,528.5 L791.8,528.5 L792.7,523.6 L793.7,528.5 L795.8,528.5 L797.0,524.1 L798.2,528.5 L799.8,528.5 L800.9,523.8 L801.9,528.5 L804.4,528.5 L805.1,524.0 L805.9,528.5 L808.5,528.5 L809.1,524.8 L809.7,528.5 L811.3,528.5 L811.8,524.8 L814.3,524.8 L814.8,528.5 L817.0,528.5 L817.8,524.9 L818.7,528.5 L821.2,528.5 L821.9,526.5 L822.5,528.5 L823.8,528.5 L824.3,524.5 L825.9,524.5 L826.4,528.5 L828.9,528.5 L829.9,525.1 L830.8,528.5 L832.3,528.5 L833.5,518.2 L834.7,528.5 L837.4,528.5 L838.1,524.5 L838.9,528.5 L840.4,528.5 L841.2,523.6 L842.1,528.5 L844.0,528.5 L844.6,524.8 L845.2,528.5 L846.6,528.5 L847.1,523.9 L848.8,523.9 L849.3,528.5 L851.5,528.5 L852.7,525.2 L853.8,528.5 L857.0,528.5 L857.7,518.7 L858.4,528.5 L859.6,528.5 L860.4,519.1 L861.2,528.5 L862.7,528.5 L863.4,526.3 L864.0,528.5 L867.0,528.5 L867.6,519.8 L868.2,528.5 L870.1,528.5 L871.3,524.4 L872.5,528.5 L874.7,528.5 L875.9,525.5 L877.1,528.5 L878.9,528.5 L880.1,525.5 L881.2,528.5 L882.9,528.5 L883.7,524.5 L884.4,528.5 L887.6,528.5 L888.7,523.6 L889.8,528.5 L890.7,528.5 L891.6,525.3 L892.6,528.5 L894.3,528.5 L895.5,526.3 L896.7,528.5 L898.4,528.5 L899.3,525.8 L900.2,528.5 L902.9,528.5 L903.9,524.8 L904.9,528.5 L907.2,528.5 L907.7,523.7 L909.4,523.7 L909.9,528.5 L912.7,528.5 L913.2,525.3 L913.7,528.5 L916.9,528.5 L917.6,524.3 L918.3,528.5 L920.6,528.5 L921.1,526.3 L922.9,526.3 L923.4,528.5 L924.4,528.5 L925.1,525.1 L925.9,528.5 L928.5,528.5 L929.3,524.7 L930.1,528.5 L931.5,528.5 L932.6,525.6 L933.8,528.5 L936.9,528.5 L938.1,526.4 L939.3,528.5 L941.8,528.5 L943.0,523.7 L944.2,528.5 L945.3,528.5 L946.4,523.0 L947.6,528.5 L950.7,528.5 L951.6,524.6 L952.6,528.5 L954.9,528.5 L955.4,523.9 L957.6,523.9 L958.1,528.5 L960.9,528.5 L961.4,526.0 L963.4,526.0 L963.9,528.5 L967.1,528.5 L968.0,526.5 L969.0,528.5 L971.7,528.5 L972.5,524.6 L973.3,528.5 L975.3,528.5 L975.9,523.8 L976.4,528.5 L978.9,528.5 L980.0,524.7 L981.1,528.5 L982.3,528.5 L983.3,526.1 L984.3,528.5 L986.3,528.5 L987.3,524.1 L988.2,528.5 L990.9,528.5 L992.1,524.0 L993.3,528.5 L996.4,528.5 L997.1,523.8 L997.9,528.5 L999.9,528.5 L1000.6,523.5 L1001.3,528.5 L1004.2,528.5 L1004.7,525.1 L1006.1,525.1 L1006.6,528.5 L1008.9,528.5 L1009.5,523.5 L1010.1,528.5 L1012.4,528.5 L1013.7,524.2 L1014.9,528.5 L1017.5,528.5 L1018.1,525.1 L1018.6,528.5 L1020.6,528.5 L1021.4,524.1 L1022.2,528.5 L1023.4,528.5 L1024.6,523.9 L1025.8,528.5 L1028.2,528.5 L1029.3,526.2 L1030.3,528.5 L1033.3,528.5 L1034.1,524.6 L1034.8,528.5 L1036.9,528.5 L1037.9,523.6 L1038.8,528.5 L1040.6,528.5 L1041.4,524.3 L1042.2,528.5 L1043.0,528.5 L1043.9,525.5 L1044.8,528.5 L1047.8,528.5 L1048.3,524.2 L1049.7,524.2 L1050.2,528.5 L1052.5,528.5 L1053.7,525.8 L1054.9,528.5 L1055.9,528.5 L1057.2,524.6 L1058.4,528.5 L1060.9,528.5 L1061.9,523.6 L1063.0,528.5 L1065.6,528.5 L1066.1,525.5 L1068.4,525.5 L1068.9,528.5 L1070.6,528.5 L1071.1,525.6 L1072.2,525.6 L1072.7,528.5 L1073.8,528.5 L1074.4,525.2 L1075.0,528.5 L1076.6,528.5 L1077.7,524.8 L1078.8,528.5 L1081.6,528.5 L1082.3,524.2 L1083.0,528.5 L1085.7,528.5 L1086.9,524.1 L1088.0,528.5 L1090.4,528.5 L1091.6,526.4 L1092.8,528.5 L1094.7,528.5 L1095.2,525.8 L1096.5,525.8 L1097.0,528.5 L1099.9,528.5 L1100.9,524.8 L1101.8,528.5 L1104.6,528.5 L1105.6,525.7 L1106.5,528.5 L1109.2,528.5 L1109.7,526.2 L1110.2,528.5 L1113.4,528.5 L1114.0,523.9 L1114.7,528.5 L1117.0,528.5 L1117.7,525.6 L1118.3,528.5 L1121.3,528.5 L1121.8,526.4 L1124.0,526.4 L1124.5,528.5 L1126.2,528.5 L1126.9,521.0 L1127.7,528.5 L1130.0,528.5 L1130.5,526.3 L1132.7,526.3 L1133.2,528.5 L1134.2,528.5 L1134.7,522.0 L1136.0,522.0 L1136.5,528.5 L1139.3,528.5 L1139.8,524.9 L1142.1,524.9 L1142.6,528.5 L1143.5,528.5 L1144.5,520.5 L1145.5,528.5 L1146.3,528.5 L1146.8,525.3 L1147.4,528.5 L1150.5,528.5 L1151.6,524.9 L1152.8,528.5 L1154.8,528.5 L1155.9,526.2 L1156.9,528.5 L1160.1,528.5 L1160.7,524.6 L1161.4,528.5 L1164.4,528.5 L1165.3,526.3 L1166.3,528.5 L1169.3,528.5 L1169.9,520.4 L1170.6,528.5 L1171.7,528.5 L1172.4,526.2 L1173.1,528.5 L1174.1,528.5 L1175.3,524.1 L1176.4,528.5 L1179.0,528.5 L1179.7,526.3 L1180.4,528.5 L1182.0,528.5 L1183.2,523.9 L1184.5,528.5 L1187.6,528.5 L1188.1,523.6 L1188.6,528.5 L1190.7,528.5 L1191.6,525.8 L1192.4,528.5 L1194.6,528.5 L1195.8,524.8 L1196.9,528.5 L1199.7,528.5 L1200.5,525.1 L1201.4,528.5 L1204.5,528.5 L1205.7,523.8 L1206.8,528.5 L1209.3,528.5 L1210.2,525.5 L1211.2,528.5 L1214.1,528.5 L1214.6,524.6 L1215.2,528.5 L1217.8,528.5 L1218.5,525.4 L1219.1,528.5 L1220.8,528.5 L1221.5,525.5 L1222.3,528.5 L1225.4,528.5 L1226.1,526.0 L1226.9,528.5 L1229.6,528.5 L1230.6,526.0 L1231.5,528.5 L1233.8,528.5 L1234.9,526.0 L1236.1,528.5 L1237.8,528.5 L1238.4,523.5 L1239.0,528.5 L1240.0,528.5 L1240.5,521.7 L1242.5,521.7 L1243.0,528.5 L1244.9,528.5 L1246.1,523.5 L1247.3,528.5 L1250.1,528.5 L1251.2,525.5 L1252.3,528.5 L1253.5,528.5 L1254.1,525.2 L1254.6,528.5 L1255.8,528.5 L1256.3,519.3 L1258.3,519.3 L1258.8,528.5 L1261.9,528.5 L1262.4,523.5 L1264.5,523.5 L1265.0,528.5 L1266.4,528.5 L1267.4,519.7 L1268.4,528.5 L1271.0,528.5 L1271.7,525.8 L1272.4,528.5 L1274.3,528.5 L1275.1,524.3 L1275.9,528.5 L1276.9,528.5 L1277.7,525.3 L1278.5,528.5 L1281.1,528.5 L1282.1,524.3 L1283.1,528.5 L1285.2,528.5 L1286.1,523.7 L1287.1,528.5 L1289.4,528.5 L1290.5,525.5 L1291.6,528.5 L1293.3,528.5 L1294.2,524.7 L1295.0,528.5 L1297.1,528.5 L1298.0,526.0 L1298.9,528.5 L1301.8,528.5 L1302.6,524.5 L1303.4,528.5 L1305.9,528.5 L1306.4,522.2 L1307.4,522.2 L1307.9,528.5 L1309.6,528.5 L1310.3,525.4 L1311.0,528.5 L1312.5,528.5 L1313.0,525.7 L1314.1,525.7 L1314.6,528.5 L1316.4,528.5 L1317.7,523.8 L1319.0,528.5 L1321.8,528.5 L1322.9,522.3 L1324.1,528.5 L1327.0,528.5 L1327.8,526.3 L1328.7,528.5 L1330.8,528.5 L1331.4,525.1 L1332.0,528.5 L1333.0,528.5 L1333.9,526.5 L1334.8,528.5 L1335.6,528.5 L1336.5,525.1 L1337.5,528.5 L1338.4,528.5 L1339.4,523.7 L1340.4,528.5 L1341.8,528.5 L1342.3,524.9 L1344.1,524.9 L1344.6,528.5 L1345.9,528.5 L1347.2,523.5 L1348.5,528.5 L1351.4,528.5 L1351.9,525.5 L1354.3,525.5 L1354.8,528.5 L1356.5,528.5 L1357.1,525.5 L1357.7,528.5 L1358.9,528.5 L1359.7,526.3 L1360.4,528.5 L1363.4,528.5 L1364.1,524.5 L1364.9,528.5 L1366.3,528.5 L1366.8,526.4 L1366.5,528.5 L1366.5,528.5 M109.8,529.5 L110.4,517.0 L111.0,529.5 M137.8,529.5 L138.4,518.0 L139.0,529.5 M242.9,529.5 L243.5,514.2 L244.1,529.5 M251.9,529.5 L252.5,518.0 L253.1,529.5 M263.1,529.5 L263.7,515.0 L264.3,529.5 M269.1,529.5 L269.7,515.7 L270.3,529.5 M392.9,529.5 L393.5,515.2 L394.1,529.5 M516.6,529.5 L517.2,513.5 L517.8,529.5 M569.4,529.5 L570.0,515.0 L570.6,529.5 M620.1,529.5 L620.7,510.0 L621.3,529.5 M664.4,529.5 L665.0,509.0 L665.6,529.5 M669.1,529.5 L669.7,506.0 L670.3,529.5 M697.0,529.5 L697.6,520.9 L698.2,529.5 M801.7,528.5 L802.3,515.0 L802.9,528.5 M950.8,528.5 L951.4,489.9 L952.0,528.5 M978.9,528.5 L979.5,516.0 L980.1,528.5 M1178.9,528.5 L1179.5,513.2 L1180.1,528.5 M1182.8,528.5 L1183.4,516.0 L1184.0,528.5 M1226.9,528.5 L1227.5,513.0 L1228.1,528.5 M1234.8,528.5 L1235.4,509.0 L1236.0,528.5 M1296.8,528.5 L1297.4,512.0 L1298.0,528.5 M1359.8,528.5 L1360.4,519.5 L1361.0,528.5 " fill="none" stroke="#0080ff" stroke-width="1" stroke-linejoin="miter" shape-rendering="crispEdges"/>
<path d="M150.5,529.5 H210.6" stroke="#0080ff" stroke-width="1" shape-rendering="crispEdges"/>
<path d="M950.5,529 V452" stroke="#0080ff" stroke-width="1" shape-rendering="crispEdges"/>
<path d="M142.5,539 V530 M144.5,539 V534" stroke="#ff0000" stroke-width="1" shape-rendering="crispEdges"/>
<rect x="146" y="537.8" width="1.3" height="1.2" fill="#ff0000"/><rect x="274" y="537.8" width="1.3" height="1.2" fill="#ff0000"/><rect x="309" y="537.8" width="1.3" height="1.2" fill="#ff0000"/><rect x="431" y="537.8" width="1.3" height="1.2" fill="#ff0000"/><rect x="493" y="537.8" width="1.3" height="1.2" fill="#ff0000"/><rect x="622" y="537.8" width="1.3" height="1.2" fill="#ff0000"/><rect x="724" y="537.8" width="1.3" height="1.2" fill="#ff0000"/><rect x="916" y="537.8" width="1.3" height="1.2" fill="#ff0000"/><rect x="1018" y="537.8" width="1.3" height="1.2" fill="#ff0000"/><rect x="1045" y="537.8" width="1.3" height="1.2" fill="#ff0000"/><rect x="1056" y="537.8" width="1.3" height="1.2" fill="#ff0000"/><rect x="1060" y="537.8" width="1.3" height="1.2" fill="#ff0000"/><rect x="1094" y="537.8" width="1.3" height="1.2" fill="#ff0000"/><rect x="1184" y="537.8" width="1.3" height="1.2" fill="#ff0000"/><rect x="1238" y="537.8" width="1.3" height="1.2" fill="#ff0000"/><rect x="1305" y="537.8" width="1.3" height="1.2" fill="#ff0000"/>
<path d="M100.70,502.50 L106.50,502.50 L108.50,504.50 L108.50,510.30 L106.50,512.30 L100.70,512.30 L98.70,510.30 L98.70,504.50 Z" fill="none" stroke="#c04000" stroke-width="1.2"/><path d="M103.6,501.0v1.3M103.6,512.5v1.3M97.2,507.4h1.3M108.7,507.4h1.3" stroke="#c04000" stroke-width="1.1"/>
<path d="M146.50,503.40 L152.30,503.40 L154.30,505.40 L154.30,511.20 L152.30,513.20 L146.50,513.20 L144.50,511.20 L144.50,505.40 Z" fill="none" stroke="#c04000" stroke-width="1.2"/><path d="M149.4,501.9v1.3M149.4,513.4v1.3M143.0,508.3h1.3M154.5,508.3h1.3" stroke="#c04000" stroke-width="1.1"/>
<path d="M205.50,505.50 L211.30,505.50 L213.30,507.50 L213.30,513.30 L211.30,515.30 L205.50,515.30 L203.50,513.30 L203.50,507.50 Z" fill="none" stroke="#c04000" stroke-width="1.2"/><path d="M208.4,504.0v1.3M208.4,515.5v1.3M202.0,510.4h1.3M213.5,510.4h1.3" stroke="#c04000" stroke-width="1.1"/>
<path d="M252.30,491.30 L258.10,491.30 L260.10,493.30 L260.10,499.10 L258.10,501.10 L252.30,501.10 L250.30,499.10 L250.30,493.30 Z" fill="none" stroke="#c04000" stroke-width="1.2"/><path d="M255.2,489.8v1.3M255.2,501.3v1.3M248.8,496.2h1.3M260.3,496.2h1.3" stroke="#c04000" stroke-width="1.1"/>
<path d="M258.30,506.30 L264.10,506.30 L266.10,508.30 L266.10,514.10 L264.10,516.10 L258.30,516.10 L256.30,514.10 L256.30,508.30 Z" fill="none" stroke="#c04000" stroke-width="1.2"/><path d="M261.2,504.8v1.3M261.2,516.3v1.3M254.8,511.2h1.3M266.3,511.2h1.3" stroke="#c04000" stroke-width="1.1"/>
<path d="M304.40,505.60 L310.20,505.60 L312.20,507.60 L312.20,513.40 L310.20,515.40 L304.40,515.40 L302.40,513.40 L302.40,507.60 Z" fill="none" stroke="#c04000" stroke-width="1.2"/><path d="M307.3,504.1v1.3M307.3,515.6v1.3M300.9,510.5h1.3M312.4,510.5h1.3" stroke="#c04000" stroke-width="1.1"/>
<path d="M311.60,502.30 L317.40,502.30 L319.40,504.30 L319.40,510.10 L317.40,512.10 L311.60,512.10 L309.60,510.10 L309.60,504.30 Z" fill="none" stroke="#c04000" stroke-width="1.2"/><path d="M314.5,500.8v1.3M314.5,512.3v1.3M308.1,507.2h1.3M319.6,507.2h1.3" stroke="#c04000" stroke-width="1.1"/>
<path d="M357.30,489.50 L363.10,489.50 L365.10,491.50 L365.10,497.30 L363.10,499.30 L357.30,499.30 L355.30,497.30 L355.30,491.50 Z" fill="none" stroke="#c04000" stroke-width="1.2"/><path d="M360.2,488.0v1.3M360.2,499.5v1.3M353.8,494.4h1.3M365.3,494.4h1.3" stroke="#c04000" stroke-width="1.1"/>
<path d="M363.60,503.30 L369.40,503.30 L371.40,505.30 L371.40,511.10 L369.40,513.10 L363.60,513.10 L361.60,511.10 L361.60,505.30 Z" fill="none" stroke="#c04000" stroke-width="1.2"/><path d="M366.5,501.8v1.3M366.5,513.3v1.3M360.1,508.2h1.3M371.6,508.2h1.3" stroke="#c04000" stroke-width="1.1"/>
<path d="M410.60,502.30 L416.40,502.30 L418.40,504.30 L418.40,510.10 L416.40,512.10 L410.60,512.10 L408.60,510.10 L408.60,504.30 Z" fill="none" stroke="#c04000" stroke-width="1.2"/><path d="M413.5,500.8v1.3M413.5,512.3v1.3M407.1,507.2h1.3M418.6,507.2h1.3" stroke="#c04000" stroke-width="1.1"/>
<path d="M416.60,506.30 L422.40,506.30 L424.40,508.30 L424.40,514.10 L422.40,516.10 L416.60,516.10 L414.60,514.10 L414.60,508.30 Z" fill="none" stroke="#c04000" stroke-width="1.2"/><path d="M419.5,504.8v1.3M419.5,516.3v1.3M413.1,511.2h1.3M424.6,511.2h1.3" stroke="#c04000" stroke-width="1.1"/>
<path d="M463.40,496.30 L469.20,496.30 L471.20,498.30 L471.20,504.10 L469.20,506.10 L463.40,506.10 L461.40,504.10 L461.40,498.30 Z" fill="none" stroke="#c04000" stroke-width="1.2"/><path d="M466.3,494.8v1.3M466.3,506.3v1.3M459.9,501.2h1.3M471.4,501.2h1.3" stroke="#c04000" stroke-width="1.1"/>
<path d="M469.50,502.30 L475.30,502.30 L477.30,504.30 L477.30,510.10 L475.30,512.10 L469.50,512.10 L467.50,510.10 L467.50,504.30 Z" fill="none" stroke="#c04000" stroke-width="1.2"/><path d="M472.4,500.8v1.3M472.4,512.3v1.3M466.0,507.2h1.3M477.5,507.2h1.3" stroke="#c04000" stroke-width="1.1"/>
<path d="M515.30,496.30 L521.10,496.30 L523.10,498.30 L523.10,504.10 L521.10,506.10 L515.30,506.10 L513.30,504.10 L513.30,498.30 Z" fill="none" stroke="#c04000" stroke-width="1.2"/><path d="M518.2,494.8v1.3M518.2,506.3v1.3M511.8,501.2h1.3M523.3,501.2h1.3" stroke="#c04000" stroke-width="1.1"/>
<path d="M521.60,487.30 L527.40,487.30 L529.40,489.30 L529.40,495.10 L527.40,497.10 L521.60,497.10 L519.60,495.10 L519.60,489.30 Z" fill="none" stroke="#c04000" stroke-width="1.2"/><path d="M524.5,485.8v1.3M524.5,497.3v1.3M518.1,492.2h1.3M529.6,492.2h1.3" stroke="#c04000" stroke-width="1.1"/>
<path d="M568.60,482.30 L574.40,482.30 L576.40,484.30 L576.40,490.10 L574.40,492.10 L568.60,492.10 L566.60,490.10 L566.60,484.30 Z" fill="none" stroke="#c04000" stroke-width="1.2"/><path d="M571.5,480.8v1.3M571.5,492.3v1.3M565.1,487.2h1.3M576.6,487.2h1.3" stroke="#c04000" stroke-width="1.1"/>
<path d="M574.60,498.40 L580.40,498.40 L582.40,500.40 L582.40,506.20 L580.40,508.20 L574.60,508.20 L572.60,506.20 L572.60,500.40 Z" fill="none" stroke="#c04000" stroke-width="1.2"/><path d="M577.5,496.9v1.3M577.5,508.4v1.3M571.1,503.3h1.3M582.6,503.3h1.3" stroke="#c04000" stroke-width="1.1"/>
<path d="M621.40,505.60 L627.20,505.60 L629.20,507.60 L629.20,513.40 L627.20,515.40 L621.40,515.40 L619.40,513.40 L619.40,507.60 Z" fill="none" stroke="#c04000" stroke-width="1.2"/><path d="M624.3,504.1v1.3M624.3,515.6v1.3M617.9,510.5h1.3M629.4,510.5h1.3" stroke="#c04000" stroke-width="1.1"/>
<path d="M627.50,499.30 L633.30,499.30 L635.30,501.30 L635.30,507.10 L633.30,509.10 L627.50,509.10 L625.50,507.10 L625.50,501.30 Z" fill="none" stroke="#c04000" stroke-width="1.2"/><path d="M630.4,497.8v1.3M630.4,509.3v1.3M624.0,504.2h1.3M635.5,504.2h1.3" stroke="#c04000" stroke-width="1.1"/>
<path d="M673.60,504.40 L679.40,504.40 L681.40,506.40 L681.40,512.20 L679.40,514.20 L673.60,514.20 L671.60,512.20 L671.60,506.40 Z" fill="none" stroke="#c04000" stroke-width="1.2"/><path d="M676.5,502.9v1.3M676.5,514.4v1.3M670.1,509.3h1.3M681.6,509.3h1.3" stroke="#c04000" stroke-width="1.1"/>
<path d="M680.60,488.30 L686.40,488.30 L688.40,490.30 L688.40,496.10 L686.40,498.10 L680.60,498.10 L678.60,496.10 L678.60,490.30 Z" fill="none" stroke="#c04000" stroke-width="1.2"/><path d="M683.5,486.8v1.3M683.5,498.3v1.3M677.1,493.2h1.3M688.6,493.2h1.3" stroke="#c04000" stroke-width="1.1"/>
<path d="M726.40,504.60 L732.20,504.60 L734.20,506.60 L734.20,512.40 L732.20,514.40 L726.40,514.40 L724.40,512.40 L724.40,506.60 Z" fill="none" stroke="#c04000" stroke-width="1.2"/><path d="M729.3,503.1v1.3M729.3,514.6v1.3M722.9,509.5h1.3M734.4,509.5h1.3" stroke="#c04000" stroke-width="1.1"/>
<path d="M732.70,501.30 L738.50,501.30 L740.50,503.30 L740.50,509.10 L738.50,511.10 L732.70,511.10 L730.70,509.10 L730.70,503.30 Z" fill="none" stroke="#c04000" stroke-width="1.2"/><path d="M735.6,499.8v1.3M735.6,511.3v1.3M729.2,506.2h1.3M740.7,506.2h1.3" stroke="#c04000" stroke-width="1.1"/>
<path d="M779.60,506.50 L785.40,506.50 L787.40,508.50 L787.40,514.30 L785.40,516.30 L779.60,516.30 L777.60,514.30 L777.60,508.50 Z" fill="none" stroke="#c04000" stroke-width="1.2"/><path d="M782.5,505.0v1.3M782.5,516.5v1.3M776.1,511.4h1.3M787.6,511.4h1.3" stroke="#c04000" stroke-width="1.1"/>
<path d="M785.40,506.50 L791.20,506.50 L793.20,508.50 L793.20,514.30 L791.20,516.30 L785.40,516.30 L783.40,514.30 L783.40,508.50 Z" fill="none" stroke="#c04000" stroke-width="1.2"/><path d="M788.3,505.0v1.3M788.3,516.5v1.3M781.9,511.4h1.3M793.4,511.4h1.3" stroke="#c04000" stroke-width="1.1"/>
<path d="M832.10,502.10 L837.90,502.10 L839.90,504.10 L839.90,509.90 L837.90,511.90 L832.10,511.90 L830.10,509.90 L830.10,504.10 Z" fill="none" stroke="#c04000" stroke-width="1.2"/><path d="M835.0,500.6v1.3M835.0,512.1v1.3M828.6,507.0h1.3M840.1,507.0h1.3" stroke="#c04000" stroke-width="1.1"/>
<path d="M838.40,506.50 L844.20,506.50 L846.20,508.50 L846.20,514.30 L844.20,516.30 L838.40,516.30 L836.40,514.30 L836.40,508.50 Z" fill="none" stroke="#c04000" stroke-width="1.2"/><path d="M841.3,505.0v1.3M841.3,516.5v1.3M834.9,511.4h1.3M846.4,511.4h1.3" stroke="#c04000" stroke-width="1.1"/>
<path d="M884.30,504.20 L890.10,504.20 L892.10,506.20 L892.10,512.00 L890.10,514.00 L884.30,514.00 L882.30,512.00 L882.30,506.20 Z" fill="none" stroke="#c04000" stroke-width="1.2"/><path d="M887.2,502.7v1.3M887.2,514.2v1.3M880.8,509.1h1.3M892.3,509.1h1.3" stroke="#c04000" stroke-width="1.1"/>
<path d="M890.40,507.20 L896.20,507.20 L898.20,509.20 L898.20,515.00 L896.20,517.00 L890.40,517.00 L888.40,515.00 L888.40,509.20 Z" fill="none" stroke="#c04000" stroke-width="1.2"/><path d="M893.3,505.7v1.3M893.3,517.2v1.3M886.9,512.1h1.3M898.4,512.1h1.3" stroke="#c04000" stroke-width="1.1"/>
<path d="M937.30,505.50 L943.10,505.50 L945.10,507.50 L945.10,513.30 L943.10,515.30 L937.30,515.30 L935.30,513.30 L935.30,507.50 Z" fill="none" stroke="#c04000" stroke-width="1.2"/><path d="M940.2,504.0v1.3M940.2,515.5v1.3M933.8,510.4h1.3M945.3,510.4h1.3" stroke="#c04000" stroke-width="1.1"/>
<path d="M943.40,497.20 L949.20,497.20 L951.20,499.20 L951.20,505.00 L949.20,507.00 L943.40,507.00 L941.40,505.00 L941.40,499.20 Z" fill="none" stroke="#c04000" stroke-width="1.2"/><path d="M946.3,495.7v1.3M946.3,507.2v1.3M939.9,502.1h1.3M951.4,502.1h1.3" stroke="#c04000" stroke-width="1.1"/>
<path d="M990.60,505.50 L996.40,505.50 L998.40,507.50 L998.40,513.30 L996.40,515.30 L990.60,515.30 L988.60,513.30 L988.60,507.50 Z" fill="none" stroke="#c04000" stroke-width="1.2"/><path d="M993.5,504.0v1.3M993.5,515.5v1.3M987.1,510.4h1.3M998.6,510.4h1.3" stroke="#c04000" stroke-width="1.1"/>
<path d="M996.60,489.40 L1002.40,489.40 L1004.40,491.40 L1004.40,497.20 L1002.40,499.20 L996.60,499.20 L994.60,497.20 L994.60,491.40 Z" fill="none" stroke="#c04000" stroke-width="1.2"/><path d="M999.5,487.9v1.3M999.5,499.4v1.3M993.1,494.3h1.3M1004.6,494.3h1.3" stroke="#c04000" stroke-width="1.1"/>
<path d="M1042.60,482.40 L1048.40,482.40 L1050.40,484.40 L1050.40,490.20 L1048.40,492.20 L1042.60,492.20 L1040.60,490.20 L1040.60,484.40 Z" fill="none" stroke="#c04000" stroke-width="1.2"/><path d="M1045.5,480.9v1.3M1045.5,492.4v1.3M1039.1,487.3h1.3M1050.6,487.3h1.3" stroke="#c04000" stroke-width="1.1"/>
<path d="M1049.30,505.50 L1055.10,505.50 L1057.10,507.50 L1057.10,513.30 L1055.10,515.30 L1049.30,515.30 L1047.30,513.30 L1047.30,507.50 Z" fill="none" stroke="#c04000" stroke-width="1.2"/><path d="M1052.2,504.0v1.3M1052.2,515.5v1.3M1045.8,510.4h1.3M1057.3,510.4h1.3" stroke="#c04000" stroke-width="1.1"/>
<path d="M1095.60,505.50 L1101.40,505.50 L1103.40,507.50 L1103.40,513.30 L1101.40,515.30 L1095.60,515.30 L1093.60,513.30 L1093.60,507.50 Z" fill="none" stroke="#c04000" stroke-width="1.2"/><path d="M1098.5,504.0v1.3M1098.5,515.5v1.3M1092.1,510.4h1.3M1103.6,510.4h1.3" stroke="#c04000" stroke-width="1.1"/>
<path d="M1101.70,505.50 L1107.50,505.50 L1109.50,507.50 L1109.50,513.30 L1107.50,515.30 L1101.70,515.30 L1099.70,513.30 L1099.70,507.50 Z" fill="none" stroke="#c04000" stroke-width="1.2"/><path d="M1104.6,504.0v1.3M1104.6,515.5v1.3M1098.2,510.4h1.3M1109.7,510.4h1.3" stroke="#c04000" stroke-width="1.1"/>
<path d="M1148.50,501.30 L1154.30,501.30 L1156.30,503.30 L1156.30,509.10 L1154.30,511.10 L1148.50,511.10 L1146.50,509.10 L1146.50,503.30 Z" fill="none" stroke="#c04000" stroke-width="1.2"/><path d="M1151.4,499.8v1.3M1151.4,511.3v1.3M1145.0,506.2h1.3M1156.5,506.2h1.3" stroke="#c04000" stroke-width="1.1"/>
<path d="M1154.60,506.50 L1160.40,506.50 L1162.40,508.50 L1162.40,514.30 L1160.40,516.30 L1154.60,516.30 L1152.60,514.30 L1152.60,508.50 Z" fill="none" stroke="#c04000" stroke-width="1.2"/><path d="M1157.5,505.0v1.3M1157.5,516.5v1.3M1151.1,511.4h1.3M1162.6,511.4h1.3" stroke="#c04000" stroke-width="1.1"/>
<path d="M1200.60,504.60 L1206.40,504.60 L1208.40,506.60 L1208.40,512.40 L1206.40,514.40 L1200.60,514.40 L1198.60,512.40 L1198.60,506.60 Z" fill="none" stroke="#c04000" stroke-width="1.2"/><path d="M1203.5,503.1v1.3M1203.5,514.6v1.3M1197.1,509.5h1.3M1208.6,509.5h1.3" stroke="#c04000" stroke-width="1.1"/>
<path d="M1207.30,484.50 L1213.10,484.50 L1215.10,486.50 L1215.10,492.30 L1213.10,494.30 L1207.30,494.30 L1205.30,492.30 L1205.30,486.50 Z" fill="none" stroke="#c04000" stroke-width="1.2"/><path d="M1210.2,483.0v1.3M1210.2,494.5v1.3M1203.8,489.4h1.3M1215.3,489.4h1.3" stroke="#c04000" stroke-width="1.1"/>
<path d="M1253.60,504.70 L1259.40,504.70 L1261.40,506.70 L1261.40,512.50 L1259.40,514.50 L1253.60,514.50 L1251.60,512.50 L1251.60,506.70 Z" fill="none" stroke="#c04000" stroke-width="1.2"/><path d="M1256.5,503.2v1.3M1256.5,514.7v1.3M1250.1,509.6h1.3M1261.6,509.6h1.3" stroke="#c04000" stroke-width="1.1"/>
<path d="M1259.70,505.40 L1265.50,505.40 L1267.50,507.40 L1267.50,513.20 L1265.50,515.20 L1259.70,515.20 L1257.70,513.20 L1257.70,507.40 Z" fill="none" stroke="#c04000" stroke-width="1.2"/><path d="M1262.6,503.9v1.3M1262.6,515.4v1.3M1256.2,510.3h1.3M1267.7,510.3h1.3" stroke="#c04000" stroke-width="1.1"/>
<path d="M1306.70,505.40 L1312.50,505.40 L1314.50,507.40 L1314.50,513.20 L1312.50,515.20 L1306.70,515.20 L1304.70,513.20 L1304.70,507.40 Z" fill="none" stroke="#c04000" stroke-width="1.2"/><path d="M1309.6,503.9v1.3M1309.6,515.4v1.3M1303.2,510.3h1.3M1314.7,510.3h1.3" stroke="#c04000" stroke-width="1.1"/>
<path d="M1312.80,505.40 L1318.60,505.40 L1320.60,507.40 L1320.60,513.20 L1318.60,515.20 L1312.80,515.20 L1310.80,513.20 L1310.80,507.40 Z" fill="none" stroke="#c04000" stroke-width="1.2"/><path d="M1315.7,503.9v1.3M1315.7,515.4v1.3M1309.3,510.3h1.3M1320.8,510.3h1.3" stroke="#c04000" stroke-width="1.1"/>
<path d="M1359.60,503.70 L1365.40,503.70 L1367.40,505.70 L1367.40,511.50 L1365.40,513.50 L1359.60,513.50 L1357.60,511.50 L1357.60,505.70 Z" fill="none" stroke="#c04000" stroke-width="1.2"/><path d="M1362.5,502.2v1.3M1362.5,513.7v1.3M1356.1,508.6h1.3M1367.6,508.6h1.3" stroke="#c04000" stroke-width="1.1"/>
<path d="M100.10,525.90 L106.90,525.90 L109.00,528.00 L109.00,534.80 L106.90,536.90 L100.10,536.90 L98.00,534.80 L98.00,528.00 Z M102.90,524.90h1.2v1.2h-1.2Z M102.90,536.70h1.2v1.2h-1.2Z" fill="#c8c800"/>
<path d="M146.10,465.90 L152.90,465.90 L155.00,468.00 L155.00,474.80 L152.90,476.90 L146.10,476.90 L144.00,474.80 L144.00,468.00 Z M148.90,464.90h1.2v1.2h-1.2Z M148.90,476.70h1.2v1.2h-1.2Z" fill="#c8c800"/>
<path d="M205.00,520.80 L211.80,520.80 L213.90,522.90 L213.90,529.70 L211.80,531.80 L205.00,531.80 L202.90,529.70 L202.90,522.90 Z M207.80,519.80h1.2v1.2h-1.2Z M207.80,531.60h1.2v1.2h-1.2Z" fill="#c8c800"/>
<path d="M252.10,526.00 L258.90,526.00 L261.00,528.10 L261.00,534.90 L258.90,537.00 L252.10,537.00 L250.00,534.90 L250.00,528.10 Z M254.90,525.00h1.2v1.2h-1.2Z M254.90,536.80h1.2v1.2h-1.2Z" fill="#c8c800"/>
<path d="M258.10,524.20 L264.90,524.20 L267.00,526.30 L267.00,533.10 L264.90,535.20 L258.10,535.20 L256.00,533.10 L256.00,526.30 Z M260.90,523.20h1.2v1.2h-1.2Z M260.90,535.00h1.2v1.2h-1.2Z" fill="#c8c800"/>
<path d="M304.40,524.50 L311.20,524.50 L313.30,526.60 L313.30,533.40 L311.20,535.50 L304.40,535.50 L302.30,533.40 L302.30,526.60 Z M307.20,523.50h1.2v1.2h-1.2Z M307.20,535.30h1.2v1.2h-1.2Z" fill="#c8c800"/>
<path d="M311.10,523.50 L317.90,523.50 L320.00,525.60 L320.00,532.40 L317.90,534.50 L311.10,534.50 L309.00,532.40 L309.00,525.60 Z M313.90,522.50h1.2v1.2h-1.2Z M313.90,534.30h1.2v1.2h-1.2Z" fill="#c8c800"/>
<path d="M356.60,525.50 L363.40,525.50 L365.50,527.60 L365.50,534.40 L363.40,536.50 L356.60,536.50 L354.50,534.40 L354.50,527.60 Z M359.40,524.50h1.2v1.2h-1.2Z M359.40,536.30h1.2v1.2h-1.2Z" fill="#c8c800"/>
<path d="M363.60,525.50 L370.40,525.50 L372.50,527.60 L372.50,534.40 L370.40,536.50 L363.60,536.50 L361.50,534.40 L361.50,527.60 Z M366.40,524.50h1.2v1.2h-1.2Z M366.40,536.30h1.2v1.2h-1.2Z" fill="#c8c800"/>
<path d="M410.10,525.50 L416.90,525.50 L419.00,527.60 L419.00,534.40 L416.90,536.50 L410.10,536.50 L408.00,534.40 L408.00,527.60 Z M412.90,524.50h1.2v1.2h-1.2Z M412.90,536.30h1.2v1.2h-1.2Z" fill="#c8c800"/>
<path d="M416.60,524.50 L423.40,524.50 L425.50,526.60 L425.50,533.40 L423.40,535.50 L416.60,535.50 L414.50,533.40 L414.50,526.60 Z M419.40,523.50h1.2v1.2h-1.2Z M419.40,535.30h1.2v1.2h-1.2Z" fill="#c8c800"/>
<path d="M463.10,525.50 L469.90,525.50 L472.00,527.60 L472.00,534.40 L469.90,536.50 L463.10,536.50 L461.00,534.40 L461.00,527.60 Z M465.90,524.50h1.2v1.2h-1.2Z M465.90,536.30h1.2v1.2h-1.2Z" fill="#c8c800"/>
<path d="M469.60,524.50 L476.40,524.50 L478.50,526.60 L478.50,533.40 L476.40,535.50 L469.60,535.50 L467.50,533.40 L467.50,526.60 Z M472.40,523.50h1.2v1.2h-1.2Z M472.40,535.30h1.2v1.2h-1.2Z" fill="#c8c800"/>
<path d="M515.10,522.20 L521.90,522.20 L524.00,524.30 L524.00,531.10 L521.90,533.20 L515.10,533.20 L513.00,531.10 L513.00,524.30 Z M517.90,521.20h1.2v1.2h-1.2Z M517.90,533.00h1.2v1.2h-1.2Z" fill="#c8c800"/>
<path d="M521.60,523.70 L528.40,523.70 L530.50,525.80 L530.50,532.60 L528.40,534.70 L521.60,534.70 L519.50,532.60 L519.50,525.80 Z M524.40,522.70h1.2v1.2h-1.2Z M524.40,534.50h1.2v1.2h-1.2Z" fill="#c8c800"/>
<path d="M568.10,522.00 L574.90,522.00 L577.00,524.10 L577.00,530.90 L574.90,533.00 L568.10,533.00 L566.00,530.90 L566.00,524.10 Z M570.90,521.00h1.2v1.2h-1.2Z M570.90,532.80h1.2v1.2h-1.2Z" fill="#c8c800"/>
<path d="M574.60,524.50 L581.40,524.50 L583.50,526.60 L583.50,533.40 L581.40,535.50 L574.60,535.50 L572.50,533.40 L572.50,526.60 Z M577.40,523.50h1.2v1.2h-1.2Z M577.40,535.30h1.2v1.2h-1.2Z" fill="#c8c800"/>
<path d="M621.10,523.50 L627.90,523.50 L630.00,525.60 L630.00,532.40 L627.90,534.50 L621.10,534.50 L619.00,532.40 L619.00,525.60 Z M623.90,522.50h1.2v1.2h-1.2Z M623.90,534.30h1.2v1.2h-1.2Z" fill="#c8c800"/>
<path d="M627.60,525.50 L634.40,525.50 L636.50,527.60 L636.50,534.40 L634.40,536.50 L627.60,536.50 L625.50,534.40 L625.50,527.60 Z M630.40,524.50h1.2v1.2h-1.2Z M630.40,536.30h1.2v1.2h-1.2Z" fill="#c8c800"/>
<path d="M673.60,523.50 L680.40,523.50 L682.50,525.60 L682.50,532.40 L680.40,534.50 L673.60,534.50 L671.50,532.40 L671.50,525.60 Z M676.40,522.50h1.2v1.2h-1.2Z M676.40,534.30h1.2v1.2h-1.2Z" fill="#c8c800"/>
<path d="M680.10,524.00 L686.90,524.00 L689.00,526.10 L689.00,532.90 L686.90,535.00 L680.10,535.00 L678.00,532.90 L678.00,526.10 Z M682.90,523.00h1.2v1.2h-1.2Z M682.90,534.80h1.2v1.2h-1.2Z" fill="#c8c800"/>
<path d="M726.10,525.90 L732.90,525.90 L735.00,528.00 L735.00,534.80 L732.90,536.90 L726.10,536.90 L724.00,534.80 L724.00,528.00 Z M728.90,524.90h1.2v1.2h-1.2Z M728.90,536.70h1.2v1.2h-1.2Z" fill="#c8c800"/>
<path d="M732.60,525.50 L739.40,525.50 L741.50,527.60 L741.50,534.40 L739.40,536.50 L732.60,536.50 L730.50,534.40 L730.50,527.60 Z M735.40,524.50h1.2v1.2h-1.2Z M735.40,536.30h1.2v1.2h-1.2Z" fill="#c8c800"/>
<path d="M779.10,526.90 L785.90,526.90 L788.00,529.00 L788.00,535.80 L785.90,537.90 L779.10,537.90 L777.00,535.80 L777.00,529.00 Z M781.90,525.90h1.2v1.2h-1.2Z M781.90,537.70h1.2v1.2h-1.2Z" fill="#c8c800"/>
<path d="M785.90,524.60 L792.70,524.60 L794.80,526.70 L794.80,533.50 L792.70,535.60 L785.90,535.60 L783.80,533.50 L783.80,526.70 Z M788.70,523.60h1.2v1.2h-1.2Z M788.70,535.40h1.2v1.2h-1.2Z" fill="#c8c800"/>
<path d="M832.10,523.50 L838.90,523.50 L841.00,525.60 L841.00,532.40 L838.90,534.50 L832.10,534.50 L830.00,532.40 L830.00,525.60 Z M834.90,522.50h1.2v1.2h-1.2Z M834.90,534.30h1.2v1.2h-1.2Z" fill="#c8c800"/>
<path d="M838.40,525.00 L845.20,525.00 L847.30,527.10 L847.30,533.90 L845.20,536.00 L838.40,536.00 L836.30,533.90 L836.30,527.10 Z M841.20,524.00h1.2v1.2h-1.2Z M841.20,535.80h1.2v1.2h-1.2Z" fill="#c8c800"/>
<path d="M884.30,525.50 L891.10,525.50 L893.20,527.60 L893.20,534.40 L891.10,536.50 L884.30,536.50 L882.20,534.40 L882.20,527.60 Z M887.10,524.50h1.2v1.2h-1.2Z M887.10,536.30h1.2v1.2h-1.2Z" fill="#c8c800"/>
<path d="M890.60,525.50 L897.40,525.50 L899.50,527.60 L899.50,534.40 L897.40,536.50 L890.60,536.50 L888.50,534.40 L888.50,527.60 Z M893.40,524.50h1.2v1.2h-1.2Z M893.40,536.30h1.2v1.2h-1.2Z" fill="#c8c800"/>
<path d="M937.10,524.60 L943.90,524.60 L946.00,526.70 L946.00,533.50 L943.90,535.60 L937.10,535.60 L935.00,533.50 L935.00,526.70 Z M939.90,523.60h1.2v1.2h-1.2Z M939.90,535.40h1.2v1.2h-1.2Z" fill="#c8c800"/>
<path d="M943.10,522.90 L949.90,522.90 L952.00,525.00 L952.00,531.80 L949.90,533.90 L943.10,533.90 L941.00,531.80 L941.00,525.00 Z M945.90,521.90h1.2v1.2h-1.2Z M945.90,533.70h1.2v1.2h-1.2Z" fill="#c8c800"/>
<path d="M990.10,523.80 L996.90,523.80 L999.00,525.90 L999.00,532.70 L996.90,534.80 L990.10,534.80 L988.00,532.70 L988.00,525.90 Z M992.90,522.80h1.2v1.2h-1.2Z M992.90,534.60h1.2v1.2h-1.2Z" fill="#c8c800"/>
<path d="M996.60,526.90 L1003.40,526.90 L1005.50,529.00 L1005.50,535.80 L1003.40,537.90 L996.60,537.90 L994.50,535.80 L994.50,529.00 Z M999.40,525.90h1.2v1.2h-1.2Z M999.40,537.70h1.2v1.2h-1.2Z" fill="#c8c800"/>
<path d="M1042.30,526.40 L1049.10,526.40 L1051.20,528.50 L1051.20,535.30 L1049.10,537.40 L1042.30,537.40 L1040.20,535.30 L1040.20,528.50 Z M1045.10,525.40h1.2v1.2h-1.2Z M1045.10,537.20h1.2v1.2h-1.2Z" fill="#c8c800"/>
<path d="M1048.80,522.90 L1055.60,522.90 L1057.70,525.00 L1057.70,531.80 L1055.60,533.90 L1048.80,533.90 L1046.70,531.80 L1046.70,525.00 Z M1051.60,521.90h1.2v1.2h-1.2Z M1051.60,533.70h1.2v1.2h-1.2Z" fill="#c8c800"/>
<path d="M1095.10,525.00 L1101.90,525.00 L1104.00,527.10 L1104.00,533.90 L1101.90,536.00 L1095.10,536.00 L1093.00,533.90 L1093.00,527.10 Z M1097.90,524.00h1.2v1.2h-1.2Z M1097.90,535.80h1.2v1.2h-1.2Z" fill="#c8c800"/>
<path d="M1101.10,524.50 L1107.90,524.50 L1110.00,526.60 L1110.00,533.40 L1107.90,535.50 L1101.10,535.50 L1099.00,533.40 L1099.00,526.60 Z M1103.90,523.50h1.2v1.2h-1.2Z M1103.90,535.30h1.2v1.2h-1.2Z" fill="#c8c800"/>
<path d="M1148.10,525.50 L1154.90,525.50 L1157.00,527.60 L1157.00,534.40 L1154.90,536.50 L1148.10,536.50 L1146.00,534.40 L1146.00,527.60 Z M1150.90,524.50h1.2v1.2h-1.2Z M1150.90,536.30h1.2v1.2h-1.2Z" fill="#c8c800"/>
<path d="M1154.10,525.50 L1160.90,525.50 L1163.00,527.60 L1163.00,534.40 L1160.90,536.50 L1154.10,536.50 L1152.00,534.40 L1152.00,527.60 Z M1156.90,524.50h1.2v1.2h-1.2Z M1156.90,536.30h1.2v1.2h-1.2Z" fill="#c8c800"/>
<path d="M1200.60,525.90 L1207.40,525.90 L1209.50,528.00 L1209.50,534.80 L1207.40,536.90 L1200.60,536.90 L1198.50,534.80 L1198.50,528.00 Z M1203.40,524.90h1.2v1.2h-1.2Z M1203.40,536.70h1.2v1.2h-1.2Z" fill="#c8c800"/>
<path d="M1207.10,524.60 L1213.90,524.60 L1216.00,526.70 L1216.00,533.50 L1213.90,535.60 L1207.10,535.60 L1205.00,533.50 L1205.00,526.70 Z M1209.90,523.60h1.2v1.2h-1.2Z M1209.90,535.40h1.2v1.2h-1.2Z" fill="#c8c800"/>
<path d="M1253.10,526.00 L1259.90,526.00 L1262.00,528.10 L1262.00,534.90 L1259.90,537.00 L1253.10,537.00 L1251.00,534.90 L1251.00,528.10 Z M1255.90,525.00h1.2v1.2h-1.2Z M1255.90,536.80h1.2v1.2h-1.2Z" fill="#c8c800"/>
<path d="M1259.10,525.00 L1265.90,525.00 L1268.00,527.10 L1268.00,533.90 L1265.90,536.00 L1259.10,536.00 L1257.00,533.90 L1257.00,527.10 Z M1261.90,524.00h1.2v1.2h-1.2Z M1261.90,535.80h1.2v1.2h-1.2Z" fill="#c8c800"/>
<path d="M1306.10,525.30 L1312.90,525.30 L1315.00,527.40 L1315.00,534.20 L1312.90,536.30 L1306.10,536.30 L1304.00,534.20 L1304.00,527.40 Z M1308.90,524.30h1.2v1.2h-1.2Z M1308.90,536.10h1.2v1.2h-1.2Z" fill="#c8c800"/>
<path d="M1313.10,524.60 L1319.90,524.60 L1322.00,526.70 L1322.00,533.50 L1319.90,535.60 L1313.10,535.60 L1311.00,533.50 L1311.00,526.70 Z M1315.90,523.60h1.2v1.2h-1.2Z M1315.90,535.40h1.2v1.2h-1.2Z" fill="#c8c800"/>
<path d="M1359.10,526.70 L1365.90,526.70 L1368.00,528.80 L1368.00,535.60 L1365.90,537.70 L1359.10,537.70 L1357.00,535.60 L1357.00,528.80 Z M1361.90,525.70h1.2v1.2h-1.2Z M1361.90,537.50h1.2v1.2h-1.2Z" fill="#c8c800"/>
<path d="M762.9,456.4 L771.1,468.4 L754.7,468.4 Z" fill="none" stroke="#4169e1" stroke-width="1.1"/>
<path d="M845.9,456.4 L854.1,468.4 L837.7,468.4 Z" fill="none" stroke="#4169e1" stroke-width="1.1"/>
<path d="M959.4,456.4 L967.6,468.4 L951.2,468.4 Z" fill="none" stroke="#4169e1" stroke-width="1.1"/>
<rect x="959.2" y="481.1" width="12.6" height="12.6" fill="#00e6e6"/>
<path d="M93,350 H163 L155,363 H101 Z" fill="#306080"/>
<path d="M202.5,350 H1374 L1366,363 H209.5 Z" fill="#306080"/>
<path d="M303.6,363.2L304.5,361.4L305.4,363.2ZM489.6,363.2L490.5,361.4L491.4,363.2ZM579.6,363.2L580.5,361.4L581.4,363.2ZM759.8,363.2L760.7,361.4L761.6,363.2ZM925.4,363.2L926.3,361.4L927.2,363.2ZM1095.6,363.2L1096.5,361.4L1097.4,363.2ZM1186.4,363.2L1187.3,361.4L1188.2,363.2ZM1276.6,363.2L1277.5,361.4L1278.4,363.2Z" fill="#fff"/>
<path d="M1288,72.5 H1345" stroke="#ff0000" stroke-width="1" shape-rendering="crispEdges"/>
<path d="M1288,91.5 H1345" stroke="#00c000" stroke-width="1" shape-rendering="crispEdges"/>
<path d="M1288,110.5 H1345" stroke="#0080ff" stroke-width="1" shape-rendering="crispEdges"/>
<rect x="1310.7" y="123.5" width="11.6" height="11.6" fill="none" stroke="#c000ff" stroke-width="1.1"/>
<rect x="1310.2" y="141.9" width="12.6" height="12.6" fill="#00e6e6"/>
<path d="M1313.60,162.50 L1319.40,162.50 L1321.40,164.50 L1321.40,170.30 L1319.40,172.30 L1313.60,172.30 L1311.60,170.30 L1311.60,164.50 Z" fill="none" stroke="#c04000" stroke-width="1.2"/><path d="M1316.5,161.0v1.3M1316.5,172.5v1.3M1310.1,167.4h1.3M1321.6,167.4h1.3" stroke="#c04000" stroke-width="1.1"/>
<path d="M1313.10,180.80 L1319.90,180.80 L1322.00,182.90 L1322.00,189.70 L1319.90,191.80 L1313.10,191.80 L1311.00,189.70 L1311.00,182.90 Z M1315.90,179.80h1.2v1.2h-1.2Z M1315.90,191.60h1.2v1.2h-1.2Z" fill="#c8c800"/>
<path d="M1316.5,197.4 L1324.7,209.4 L1308.3,209.4 Z" fill="none" stroke="#4169e1" stroke-width="1.1"/>
<path d="M1316.5,216.2 L1324.7,228.2 L1308.3,228.2 Z" fill="#ffc020"/>
<path d="M1310.0,243.5H1323.0M1316.5,237.0V250.0" stroke="#008040" stroke-width="1.1"/>
<path d="M1308.3,258.4 L1324.7,258.4 L1316.5,270.6 Z" fill="none" stroke="#c080ff" stroke-width="1.1"/>
<path d="M1308.3,277.3 L1324.7,277.3 L1316.5,289.5 Z" fill="none" stroke="#306080" stroke-width="1.1"/>
<path d="M101.5,57.5 H1366.5 V539.5 H101.5 Z M154.5,539.5 v-3 M154.5,57.5 v3 M206.5,539.5 v-6 M206.5,57.5 v6 M259.5,539.5 v-3 M259.5,57.5 v3 M312.5,539.5 v-6 M312.5,57.5 v6 M365.5,539.5 v-3 M365.5,57.5 v3 M417.5,539.5 v-6 M417.5,57.5 v6 M470.5,539.5 v-3 M470.5,57.5 v3 M523.5,539.5 v-6 M523.5,57.5 v6 M575.5,539.5 v-3 M575.5,57.5 v3 M628.5,539.5 v-6 M628.5,57.5 v6 M681.5,539.5 v-3 M681.5,57.5 v3 M733.5,539.5 v-6 M733.5,57.5 v6 M786.5,539.5 v-3 M786.5,57.5 v3 M839.5,539.5 v-6 M839.5,57.5 v6 M892.5,539.5 v-3 M892.5,57.5 v3 M944.5,539.5 v-6 M944.5,57.5 v6 M997.5,539.5 v-3 M997.5,57.5 v3 M1050.5,539.5 v-6 M1050.5,57.5 v6 M1102.5,539.5 v-3 M1102.5,57.5 v3 M1155.5,539.5 v-6 M1155.5,57.5 v6 M1208.5,539.5 v-3 M1208.5,57.5 v3 M1261.5,539.5 v-6 M1261.5,57.5 v6 M1313.5,539.5 v-3 M1313.5,57.5 v3 M101.5,539.5 h6 M1366.5,539.5 h-6 M101.5,421.5 h6 M1366.5,421.5 h-6 M101.5,304.5 h6 M1366.5,304.5 h-6 M101.5,186.5 h6 M1366.5,186.5 h-6 M101.5,69.5 h6 M1366.5,69.5 h-6" fill="none" stroke="#000" stroke-width="1"/>
</svg>
</body></html>
